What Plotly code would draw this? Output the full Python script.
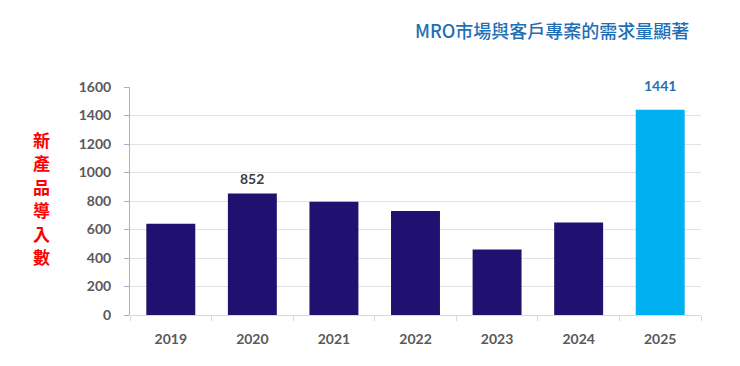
import plotly.graph_objects as go

years = ["2019", "2020", "2021", "2022", "2023", "2024", "2025"]
counts = [640, 852, 795, 730, 460, 650, 1441]
bar_colors = ["#20106F"] * 6 + ["#00B0F0"]
y_ticks = [0, 200, 400, 600, 800, 1000, 1200, 1400, 1600]
title_text = "MRO市場與客戶專案的需求量顯著"
y_title = "新產品導入數"

fig = go.Figure()
fig.add_trace(go.Bar(x=years, y=counts, marker=dict(color=bar_colors, line=dict(width=0)), width=0.6))

i20 = years.index("2020")
i25 = years.index("2025")
fig.add_annotation(x=i20, y=counts[i20], text="<b>852</b>", showarrow=False, yanchor="bottom", yshift=5,
                   font=dict(family="Lato, Open Sans, sans-serif", size=14, color="#404040"))
fig.add_annotation(x=i25, y=counts[i25], text="<b>1441</b>", showarrow=False, yanchor="bottom", yshift=14,
                   font=dict(family="Lato, Open Sans, sans-serif", size=14, color="#1F6FB5"))

fig.add_annotation(xref="paper", yref="paper", x=0.739, y=1.25, text=title_text, showarrow=False,
                   xanchor="center", yanchor="middle",
                   font=dict(family="Noto Sans CJK TC, sans-serif", size=18, color="#1F6FB5", weight=500))

# vertical stacked title, one character per annotation
n = len(y_title)
pitch = 23.5 / 228.0  # paper units per character
center = 0.513
for k, ch in enumerate(y_title):
    fig.add_annotation(xref="paper", yref="paper", x=-0.155,
                       y=center + (n - 1) / 2 * pitch - k * pitch,
                       text=ch, showarrow=False, xanchor="center", yanchor="middle",
                       font=dict(family="Noto Sans CJK TC, sans-serif", size=17, color="#FF0000", weight="bold"))

fig.update_layout(
    width=740, height=366,
    margin=dict(l=122, r=47, t=79, b=59),
    paper_bgcolor="white", plot_bgcolor="white",
    showlegend=False, bargap=0.4,
    xaxis=dict(type="category", range=[-0.5, len(years) - 0.5], showline=True, linecolor="#D9D9D9",
               ticks="outside", tickson="boundaries",
               ticklen=5, tickcolor="#D9D9D9", showgrid=False, automargin=False,
               tickfont=dict(family="Lato, Open Sans, sans-serif", size=14, color="#595959", weight="bold"),
               ticklabelstandoff=11),
    yaxis=dict(range=[0, 1600], tickvals=y_ticks, showline=True, linecolor="#9DB4D6",
               ticks="outside", ticklen=5, tickcolor="#9DB4D6", automargin=False,
               gridcolor="#E2E2E2", gridwidth=1, zeroline=False,
               tickfont=dict(family="Lato, Open Sans, sans-serif", size=14, color="#595959", weight="bold"),
               ticklabelstandoff=10),
)
fig.write_html("out.html")
